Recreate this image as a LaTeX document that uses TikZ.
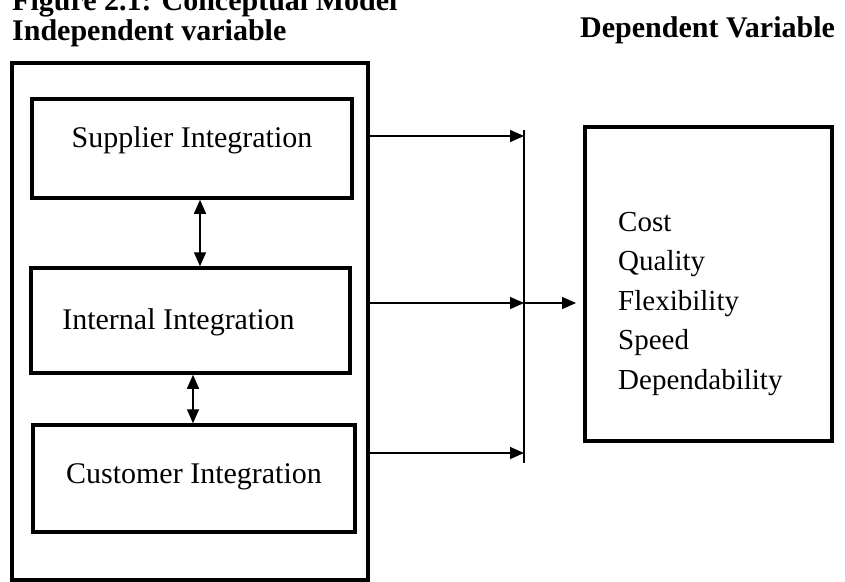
\documentclass[tikz,border=0pt]{standalone}
\usepackage{fontspec}
\setmainfont{Liberation Serif}
\usepackage{tikz}
\usetikzlibrary{positioning,arrows.meta}

\begin{document}
\begin{tikzpicture}[x=1pt, y=-1pt, font=\fontsize{30}{39.5}\selectfont, >={Triangle[length=14pt,width=12pt]},
  outerbox/.style={draw, line width=4pt, inner sep=0pt},
  intbox/.style={draw, line width=3.5pt, inner sep=0pt, text height=21pt},
  head/.style={anchor=base west, inner sep=0pt, font=\fontsize{30}{36}\selectfont\bfseries},
  link/.style={line width=1.4pt}]
\useasboundingbox (0,0) rectangle (845,581);
\clip (0,0) rectangle (845,581);
% headings
\node[head] (fig) at (12,10) {Figure 2.1: Conceptual Model};
\node[head] (indeplbl) at (12,40) {Independent variable};
\node[head] (deplbl) at (580,37) {Dependent Variable};
% independent side
\node[outerbox, minimum width=356pt, minimum height=517pt] (indep) at (190,321.5) {};
\node[intbox, minimum width=320pt, minimum height=99pt, text depth=24pt] (sup) at (192,148.5) {Supplier Integration};
\node[intbox, minimum width=319pt, minimum height=105pt, text depth=4pt] (int) at (190.5,320.5) {Internal Integration\hspace*{24pt}};
\node[intbox, minimum width=322pt, minimum height=107pt, text depth=12pt] (cus) at (194,478.5) {Customer Integration};
\draw[link,<->] ([xshift=8pt]sup.south) -- ([xshift=9.5pt]int.north);
\draw[link,<->] ([xshift=2.5pt]int.south) -- ([xshift=-1pt]cus.north);
% joining bar
\coordinate (bartop) at (524,130); \coordinate (barbot) at (524,463);
\coordinate (j1) at (524,136); \coordinate (j2) at (524,303); \coordinate (j3) at (524,453);
\draw[line width=1.8pt] (bartop) -- (barbot);
\draw[link,->] (indep.east |- j1) -- (j1);
\draw[link,->] (indep.east |- j2) -- (j2);
\draw[link,->] (indep.east |- j3) -- (j3);
% dependent side
\node[outerbox, minimum width=247pt, minimum height=314pt] (dep) at (708.5,284) {};
\node[anchor=north west, align=left, inner sep=0pt, font=\fontsize{29}{39.5}\selectfont] (perf) at (618,212) {Cost\\Quality\\Flexibility\\Speed\\Dependability};
\draw[link,->,shorten >=7pt] (j2) -- (dep.west |- j2);
\end{tikzpicture}
\end{document}
